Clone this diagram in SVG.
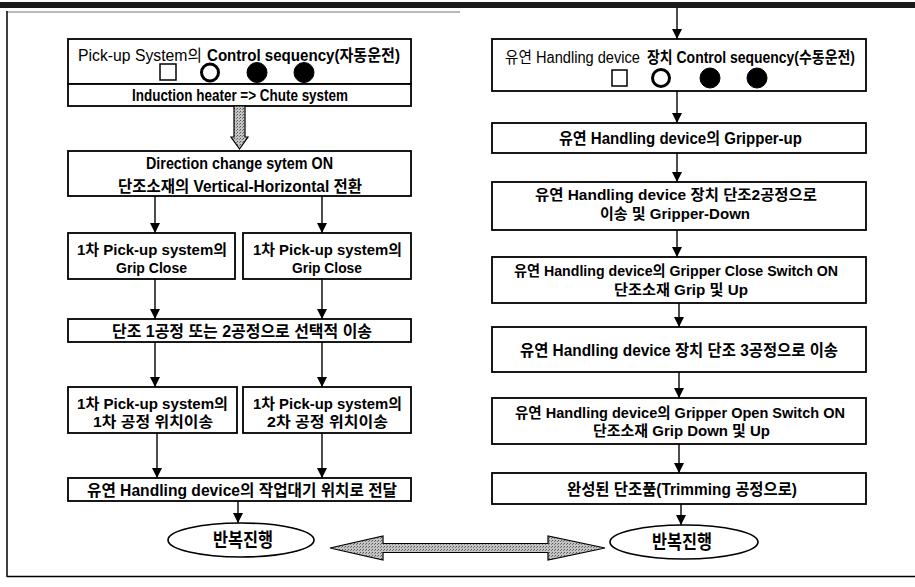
<svg xmlns="http://www.w3.org/2000/svg" width="915" height="587" viewBox="0 0 915 587">
<defs>
<style>
.box{fill:#fff;stroke:#000;stroke-width:1.8}
.t{font-family:"Liberation Sans","Noto Sans CJK KR",sans-serif;font-weight:bold;font-size:16px;fill:#000}
.s{font-size:15px}
.m{text-anchor:middle}
.n{font-weight:normal}
.e{font-size:19px}
.c{stroke:#000;stroke-width:1.4;fill:none;marker-end:url(#ah)}
.sym{stroke:#000;fill:#000}
.gray{fill:url(#dots);stroke:#000;stroke-width:1.2}
</style>
<marker id="ah" markerUnits="userSpaceOnUse" markerWidth="12" markerHeight="10" refX="10" refY="5" orient="auto">
<path d="M0,0 L10,5 L0,10 z" fill="#000"/>
</marker>
<pattern id="dots" patternUnits="userSpaceOnUse" width="3" height="3">
<rect width="3" height="3" fill="#c4c4c4"/>
<rect width="1" height="1" fill="#555"/>
<rect x="2" y="1" width="1" height="1" fill="#777"/>
</pattern>
</defs>
<rect width="915" height="587" fill="#fff"/>
<g id="frame">
<rect x="0" y="2" width="915" height="6" fill="#1a1a1a"/>
<line x1="7" y1="12" x2="460" y2="12" stroke="#777" stroke-width="1"/>
<line x1="7" y1="11" x2="7" y2="577" stroke="#000" stroke-width="1.5"/>
<line x1="7" y1="576.5" x2="915" y2="576.5" stroke="#000" stroke-width="1.5"/>
</g>
<g id="left-header">
<rect class="box" x="68" y="39" width="343" height="45"/>
<text class="t n" x="78" y="61" textLength="124" lengthAdjust="spacingAndGlyphs">Pick-up System의</text>
<text class="t" x="207" y="61" textLength="193" lengthAdjust="spacingAndGlyphs">Control sequency(자동운전)</text>
<rect x="160" y="64" width="16" height="16" fill="#fff" stroke="#000" stroke-width="1.5"/>
<circle cx="210" cy="72.5" r="8.5" fill="#fff" stroke="#000" stroke-width="3"/>
<circle class="sym" cx="257" cy="72.5" r="10"/>
<circle class="sym" cx="304" cy="72.5" r="10"/>
</g>
<g id="induction">
<rect class="box" x="68" y="84" width="343" height="22"/>
<text class="t m" x="240" y="101" textLength="216" lengthAdjust="spacingAndGlyphs">Induction heater =&gt; Chute system</text>
</g>
<g id="direction">
<rect class="box" x="68" y="151" width="343" height="45"/>
<text class="t m" x="239.5" y="169" textLength="187" lengthAdjust="spacingAndGlyphs">Direction change sytem ON</text>
<text class="t m" x="240" y="192" textLength="244" lengthAdjust="spacingAndGlyphs">단조소재의 Vertical-Horizontal 전환</text>
</g>
<g id="grip-left">
<rect class="box" x="68" y="233" width="167" height="46"/>
<text class="t s m" x="152" y="255" textLength="150" lengthAdjust="spacingAndGlyphs">1차 Pick-up system의</text>
<text class="t s m" x="151.5" y="273" textLength="71" lengthAdjust="spacingAndGlyphs">Grip Close</text>
</g>
<g id="grip-right">
<rect class="box" x="243" y="233" width="168" height="46"/>
<text class="t s m" x="327.5" y="255" textLength="149" lengthAdjust="spacingAndGlyphs">1차 Pick-up system의</text>
<text class="t s m" x="327" y="273" textLength="70" lengthAdjust="spacingAndGlyphs">Grip Close</text>
</g>
<g id="select">
<rect class="box" x="68" y="319" width="343" height="23"/>
<text class="t m" x="242" y="337" textLength="260" lengthAdjust="spacingAndGlyphs">단조 1공정 또는 2공정으로 선택적 이송</text>
</g>
<g id="move-left">
<rect class="box" x="68" y="387" width="169" height="46"/>
<text class="t s m" x="152.5" y="409" textLength="151" lengthAdjust="spacingAndGlyphs">1차 Pick-up system의</text>
<text class="t s m" x="153" y="427" textLength="120" lengthAdjust="spacingAndGlyphs">1차 공정 위치이송</text>
</g>
<g id="move-right">
<rect class="box" x="243" y="387" width="168" height="46"/>
<text class="t s m" x="327.5" y="409" textLength="149" lengthAdjust="spacingAndGlyphs">1차 Pick-up system의</text>
<text class="t s m" x="327.5" y="427" textLength="121" lengthAdjust="spacingAndGlyphs">2차 공정 위치이송</text>
</g>
<g id="deliver">
<rect class="box" x="68" y="478" width="343" height="23"/>
<text class="t m" x="242" y="496" textLength="310" lengthAdjust="spacingAndGlyphs">유연 Handling device의 작업대기 위치로 전달</text>
</g>
<g id="repeat-left">
<ellipse cx="241" cy="540" rx="73" ry="17" fill="#fff" stroke="#000" stroke-width="1.6"/>
<text class="t m e" x="243" y="547" textLength="60" lengthAdjust="spacingAndGlyphs">반복진행</text>
</g>
<g id="right-header">
<rect class="box" x="492" y="39" width="374" height="52"/>
<text class="t n" x="505" y="63" textLength="135" lengthAdjust="spacingAndGlyphs">유연 Handling device</text>
<text class="t" x="647" y="63" textLength="208" lengthAdjust="spacingAndGlyphs">장치 Control sequency(수동운전)</text>
<rect x="612" y="70" width="15" height="16" fill="#fff" stroke="#000" stroke-width="1.5"/>
<circle cx="661" cy="78" r="8.5" fill="#fff" stroke="#000" stroke-width="3"/>
<circle class="sym" cx="710" cy="78" r="10"/>
<circle class="sym" cx="757" cy="78" r="10"/>
</g>
<g id="gripper-up">
<rect class="box" x="492" y="123" width="374" height="30"/>
<text class="t m" x="680.5" y="144" textLength="243" lengthAdjust="spacingAndGlyphs">유연 Handling device의 Gripper-up</text>
</g>
<g id="transfer2">
<rect class="box" x="492" y="182" width="374" height="48"/>
<text class="t s m" x="676" y="200" textLength="282" lengthAdjust="spacingAndGlyphs">유연 Handling device 장치 단조2공정으로</text>
<text class="t s m" x="675" y="219" textLength="150" lengthAdjust="spacingAndGlyphs">이송 및 Gripper-Down</text>
</g>
<g id="grip-close">
<rect class="box" x="492" y="257" width="374" height="46"/>
<text class="t s m" x="676" y="276" textLength="324" lengthAdjust="spacingAndGlyphs">유연 Handling device의 Gripper Close Switch ON</text>
<text class="t s m" x="681" y="295" textLength="134" lengthAdjust="spacingAndGlyphs">단조소재 Grip 및 Up</text>
</g>
<g id="transfer3">
<rect class="box" x="492" y="327" width="374" height="45"/>
<text class="t m" x="679" y="356" textLength="318" lengthAdjust="spacingAndGlyphs">유연 Handling device 장치 단조 3공정으로 이송</text>
</g>
<g id="grip-open">
<rect class="box" x="492" y="398" width="374" height="46"/>
<text class="t s m" x="680" y="418" textLength="330" lengthAdjust="spacingAndGlyphs">유연 Handling device의 Gripper Open Switch ON</text>
<text class="t s m" x="681.5" y="436" textLength="177" lengthAdjust="spacingAndGlyphs">단조소재 Grip Down 및 Up</text>
</g>
<g id="trimming">
<rect class="box" x="492" y="473" width="374" height="31"/>
<text class="t m" x="682" y="495" textLength="230" lengthAdjust="spacingAndGlyphs">완성된 단조품(Trimming 공정으로)</text>
</g>
<g id="repeat-right">
<ellipse cx="684" cy="542" rx="74" ry="17" fill="#fff" stroke="#000" stroke-width="1.6"/>
<text class="t m e" x="682" y="549" textLength="60" lengthAdjust="spacingAndGlyphs">반복진행</text>
</g>
<g id="connectors">
<polygon class="gray" points="234,106 245,106 245,137 248,137 239.5,149 231,137 234,137"/>
<line class="c" x1="155" y1="196" x2="155" y2="233"/>
<line class="c" x1="322" y1="196" x2="322" y2="233"/>
<line class="c" x1="155" y1="279" x2="155" y2="319"/>
<line class="c" x1="322" y1="279" x2="322" y2="319"/>
<line class="c" x1="155" y1="342" x2="155" y2="387"/>
<line class="c" x1="322" y1="342" x2="322" y2="387"/>
<line class="c" x1="157" y1="433" x2="157" y2="478"/>
<line class="c" x1="322" y1="433" x2="322" y2="478"/>
<line class="c" x1="238" y1="501" x2="238" y2="523"/>
<line class="c" x1="677" y1="8" x2="677" y2="39"/>
<line class="c" x1="677" y1="91" x2="677" y2="123"/>
<line class="c" x1="677" y1="153" x2="677" y2="182"/>
<line class="c" x1="677" y1="230" x2="677" y2="257"/>
<line class="c" x1="679" y1="303" x2="679" y2="327"/>
<line class="c" x1="679" y1="372" x2="679" y2="398"/>
<line class="c" x1="679" y1="444" x2="679" y2="473"/>
<line class="c" x1="681" y1="504" x2="681" y2="525"/>
<polygon class="gray" points="330,548 383,536 383,543.5 548,543.5 548,536 605,548 548,560 548,552.5 383,552.5 383,560"/>
</g>
</svg>
